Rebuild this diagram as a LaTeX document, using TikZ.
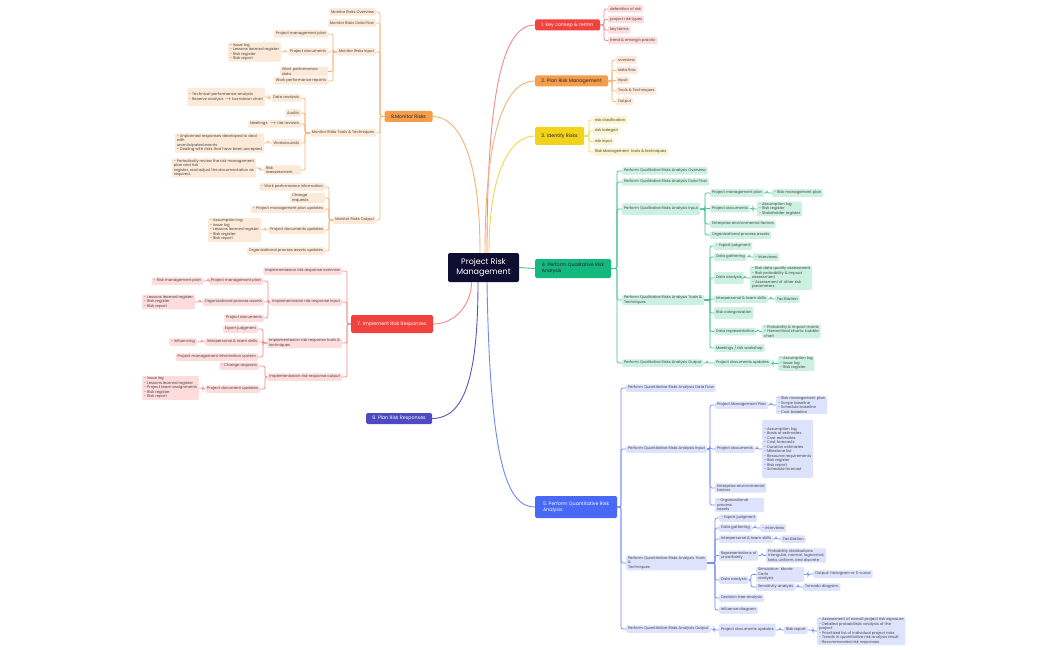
\documentclass[tikz,border=0pt]{standalone}
\usepackage{fontspec}
\setmainfont{Poppins}
\definecolor{redB}{HTML}{F2423E}\definecolor{redL}{HTML}{FDDCDB}\definecolor{redLn}{HTML}{F48A88}
\definecolor{oraB}{HTML}{F49D4A}\definecolor{oraL}{HTML}{FDE9D8}\definecolor{oraLn}{HTML}{F6B274}
\definecolor{yelB}{HTML}{F1D21C}\definecolor{yelL}{HTML}{FBF4CF}\definecolor{yelLn}{HTML}{F2D848}
\definecolor{grnB}{HTML}{15B97E}\definecolor{grnL}{HTML}{CDF1E1}\definecolor{grnLn}{HTML}{3EC38F}
\definecolor{bluB}{HTML}{4869F5}\definecolor{bluL}{HTML}{DDE3FD}\definecolor{bluLn}{HTML}{6D89F7}
\definecolor{purB}{HTML}{4E4BC0}\definecolor{purLn}{HTML}{5653C6}
\definecolor{navy}{HTML}{0E0E30}\definecolor{txt}{HTML}{444444}\definecolor{dtx}{HTML}{222233}
\newcommand\rcon[4]{\draw[#1] (#2.east) -- (#2.east -| #3,0) |- (#4.west);}
\newcommand\lcon[4]{\draw[#1] (#2.west) -- (#2.west -| #3,0) |- (#4.east);}
\begin{document}
\begin{tikzpicture}[x=1pt,y=-1pt,
  ch/.style={rounded corners=1.2pt, inner xsep=1.8pt, inner ysep=1pt, minimum height=7.5pt,
    font=\fontsize{3.8}{4.5}\selectfont, text=txt, align=left},
  rc/.style={ch, fill=redL}, oc/.style={ch, fill=oraL}, yc/.style={ch, fill=yelL},
  gc/.style={ch, fill=grnL}, bc/.style={ch, fill=bluL},
  R/.style={anchor=west}, L/.style={anchor=east},
  big/.style={rounded corners=1.5pt, inner sep=2pt, minimum height=11pt, align=left,
    font=\fontsize{4.8}{5.8}\selectfont},
  ln/.style={line width=0.7pt, rounded corners=2pt},
  rl/.style={ln, draw=redLn}, ol/.style={ln, draw=oraLn}, yl/.style={ln, draw=yelLn},
  gl/.style={ln, draw=grnLn}, bl/.style={ln, draw=bluLn},
  mainln/.style={line width=0.9pt}]
\useasboundingbox (0,0) rectangle (1050,650);
\fill[white] (0,0) rectangle (1050,650);

% root and branches
\node[rounded corners=2pt, fill=navy, text=white, minimum width=71pt, minimum height=29pt,
  align=center, font=\fontsize{8}{10}\selectfont] (root) at (483.5,267.5) {Project Risk\\Management};
\node[big, fill=redB, text=white, minimum width=65pt] (b1) at (567.5,25) {1. key consep \& termn};
\node[big, fill=oraB, text=dtx, minimum width=73pt] (b2) at (571.5,81) {2. Plan Risk Management};
\node[big, fill=yelB, text=dtx, minimum width=49pt, minimum height=18pt] (b3) at (559.5,136) {3. Identify Risks};
\node[big, fill=grnB, text=dtx, minimum width=76pt, minimum height=19pt] (b4) at (573,268.5) {4. Perform Qualitative Risk\\Analysis};
\node[big, fill=bluB, text=white, minimum width=82pt, minimum height=22pt] (b5) at (576,507) {5. Perform Quantitative Risk\\Analysis};
\node[big, fill=purB, text=white, minimum width=66pt] (b6) at (399,418.5) {6. Plan Risk Responses};
\node[big, fill=redB, text=white, minimum width=82pt, minimum height=18pt] (b7) at (392,324) {7. Implement Risk Responses};
\node[big, fill=oraB, text=dtx, minimum width=48pt] (b8) at (408.5,116.5) {8.Monitor Risks};

\draw[mainln, draw=redLn] ([xshift=3.5pt]root.north) .. controls +(0,-170) and +(-30,0) .. (b1.west);
\draw[mainln, draw=oraLn] ([xshift=1.5pt]root.north) .. controls +(0,-120) and +(-30,0) .. (b2.west);
\draw[mainln, draw=yelLn] ([xshift=5.5pt]root.north) .. controls +(0,-80) and +(-25,0) .. (b3.west);
\draw[mainln, draw=oraLn] ([xshift=-3.5pt]root.north) .. controls +(0,-100) and +(25,0) .. (b8.east);
\draw[mainln, draw=grnLn] (root.east) -- (b4.west);
\draw[mainln, draw=redLn] ([xshift=-12pt]root.south) .. controls +(0,22) and +(22,0) .. (b7.east);
\draw[mainln, draw=purLn] ([xshift=-5.5pt]root.south) .. controls +(0,95) and +(32,0) .. (b6.east);
\draw[mainln, draw=bluLn] ([xshift=3.5pt]root.south) .. controls +(3,180) and +(-28,0) .. (b5.west);

% Branch 1
\node[rc,R] (c11) at (608,9) {defenition of risk};
\node[rc,R] (c12) at (608,19.5) {project risk types};
\node[rc,R] (c13) at (608,30) {key terms};
\node[rc,R] (c14) at (608,40.5) {trend \& emergin practic};
\foreach \c in {c11,c12,c13,c14} {\rcon{rl}{b1}{604}{\c}}

% Branch 2
\node[oc,R] (c21) at (616,60) {overview};
\node[oc,R] (c22) at (616,70.5) {data flow};
\node[oc,R] (c23) at (616,80.5) {input};
\node[oc,R] (c24) at (616,91) {Tools \& Techniques};
\node[oc,R] (c25) at (616,101.5) {Output};
\foreach \c in {c21,c22,c23,c24,c25} {\rcon{ol}{b2}{612}{\c}}

% Branch 3
\node[yc,R] (c31) at (593,120) {risk clasification};
\node[yc,R] (c32) at (593,131) {risk kategori};
\node[yc,R] (c33) at (593,141.5) {risk input};
\node[yc,R] (c34) at (593,152) {Risk Management\ \ tools \& techniques};
\foreach \c in {c31,c32,c33,c34} {\rcon{yl}{b3}{589}{\c}}

% Branch 4
\node[gc,R] (q1) at (622,171) {Perform Qualitative Risks Analysis Overview};
\node[gc,R] (q2) at (622,182) {Perform Qualitative Risks Analysis Data Flow};
\node[gc,R,minimum height=12pt] (q3) at (622,209) {Perform Qualitative Risks Analysis Input};
\node[gc,R] (q4) at (622,300) {Perform Qualitative Risks Analysis Tools \&\\Techniques};
\node[gc,R] (q5) at (622,363) {Perform Qualitative Risks Analysis Output};
\foreach \c in {q1,q2,q3,q4,q5} {\rcon{gl}{b4}{617}{\c}}
\node[gc,R] (q31) at (710,193) {Project management plan};
\node[gc,R] (q32) at (710,208.5) {Project documents};
\node[gc,R] (q33) at (710,224) {Enterprise environmental factors};
\node[gc,R] (q34) at (710,235) {Organizational process assets};
\foreach \c in {q31,q32,q33,q34} {\rcon{gl}{q3}{705}{\c}}
\node[gc,R] (q311) at (772,193) {- Risk management plan};
\rcon{gl}{q31}{767}{q311}
\node[gc,R] (q321) at (757,209) {- Assumption log\\- Risk register\\- Stakeholder register};
\rcon{gl}{q32}{753}{q321}
\node[gc,R] (q41) at (714,246) {- Expert judgment};
\node[gc,R] (q42) at (714,257) {Data gathering};
\node[gc,R,minimum height=12pt] (q43) at (714,278) {Data analysis};
\node[gc,R] (q44) at (714,299) {Interpersonal \& team skills};
\node[gc,R,minimum height=12pt] (q45) at (714,313) {Risk categorization};
\node[gc,R] (q46) at (714,331.5) {Data representation};
\node[gc,R] (q47) at (714,348) {Meetings / risk workshop};
\foreach \c in {q41,q42,q43,q44,q45,q46,q47} {\rcon{gl}{q4}{710}{\c}}
\node[gc,R] (q421) at (753,257) {- Interviews};
\rcon{gl}{q42}{749}{q421}
\node[gc,R] (q431) at (750,278) {- Risk data quality assessment\\- Risk probability \& impact\\assessment\\- Assessment of other risk\\parameters};
\rcon{gl}{q43}{745}{q431}
\node[gc,R] (q441) at (775,299) {Facilitation};
\rcon{gl}{q44}{771}{q441}
\node[gc,R] (q461) at (762,331.5) {- Probability \& impact matrix\\- Hierarchical charts: bubble\\chart};
\rcon{gl}{q46}{758}{q461}
\node[gc,R] (q51) at (714,363) {Project documents updates};
\rcon{gl}{q5}{707}{q51}
\node[gc,R] (q511) at (778,363.5) {- Assumption log\\- Issue log\\- Risk register};
\rcon{gl}{q51}{773}{q511}

% Branch 5
\node[bc,R] (n1) at (626,388) {Perform Quantitative Risks Analysis Data Flow};
\node[bc,R] (n2) at (626,449) {Perform Quantitative Risks Analysis Input};
\node[bc,R] (n3) at (626,563) {Perform Quantitative Risks Analysis Tools\\\&\\Techniques};
\node[bc,R] (n4) at (626,629) {Perform Quantitative Risks Analysis Output};
\foreach \c in {n1,n2,n3,n4} {\rcon{bl}{b5}{621}{\c}}
\node[bc,R] (n21) at (715,405) {Project Management Plan};
\node[bc,R] (n22) at (715,449) {Project documents};
\node[bc,R] (n23) at (715,488) {Enterprise environmental\\factors};
\node[bc,R,text width=45pt] (n24) at (715,505) {- Organizational\\process\\assets};
\foreach \c in {n21,n22,n23,n24} {\rcon{bl}{n2}{710}{\c}}
\node[bc,R] (n211) at (776,405) {- Risk management plan\\- Scope baseline\\- Schedule baseline\\- Cost baseline};
\rcon{bl}{n21}{771}{n211}
\node[bc,R,minimum height=58pt] (n221) at (762,449) {- Assumption log\\- Basis of estimates\\- Cost estimates\\- Cost forecasts\\- Duration estimates\\- Milestone list\\- Resource requirements\\- Risk register\\- Risk report\\- Schedule forecast};
\rcon{bl}{n22}{757}{n221}
\node[bc,R] (n31) at (719,518) {- Expert judgment};
\node[bc,R] (n32) at (719,528) {Data gathering};
\node[bc,R] (n33) at (719,539) {Interpersonal \& team skills};
\node[bc,R] (n34) at (719,555.5) {Representations of\\uncertainty};
\node[bc,R] (n35) at (719,580) {Data analysis};
\node[bc,R] (n36) at (719,598) {Decision tree analysis};
\node[bc,R] (n37) at (719,610) {Influence diagram};
\foreach \c in {n31,n32,n33,n34,n35,n36,n37} {\rcon{bl}{n3}{715}{\c}}
\node[bc,R] (n321) at (760,528) {- Interviews};
\rcon{bl}{n32}{755}{n321}
\node[bc,R] (n331) at (781,539) {Facilitation};
\rcon{bl}{n33}{776}{n331}
\node[bc,R] (n341) at (766,555.5) {Probability distributions:\\triangular, normal, lognormal,\\beta, uniform, and discrete};
\rcon{bl}{n34}{762}{n341}
\node[bc,R,text width=44pt] (n351) at (756,574.5) {Simulation: Monte\\Carlo\\analysis};
\node[bc,R] (n352) at (756,587) {Sensitivity analysis};
\rcon{bl}{n35}{751}{n351}
\rcon{bl}{n35}{751}{n352}
\node[bc,R] (n3511) at (813,574) {Output: histogram or S-curve};
\rcon{bl}{n351}{808}{n3511}
\node[bc,R] (n3521) at (803,587) {Tornado diagram};
\rcon{bl}{n352}{798}{n3521}
\node[bc,R,minimum height=13pt] (n41) at (719,630) {Project documents updates};
\rcon{bl}{n4}{714}{n41}
\node[bc,R] (n411) at (784,630) {Risk report};
\rcon{bl}{n41}{780}{n411}
\node[bc,R] (n4111) at (817,631) {- Assessment of overall project risk exposure\\- Detailed probabilistic analysis of the\\project\\- Prioritized list of individual project risks\\- Trends in quantitative risk analysis result\\- Recommended risk responses};
\rcon{bl}{n411}{813}{n4111}

% Branch 8 (left)
\node[oc,L] (m1) at (376,12) {Monitor Risks Overview};
\node[oc,L] (m2) at (376,23) {Monitor Risks Data Flow};
\node[oc,L] (m3) at (376,52) {Monitor Risks Input};
\node[oc,L] (m4) at (376,133) {Monitor Risks Tools \& Techniques};
\node[oc,L] (m5) at (376,220) {Monitor Risks Output};
\foreach \c in {m1,m2,m3,m4,m5} {\lcon{ol}{b8}{380}{\c}}
\node[oc,L] (m31) at (328,34) {Project management plan};
\node[oc,L] (m32) at (328,52) {Project documents};
\node[oc,L,text width=44pt] (m33) at (328,71.5) {Work performance\\data};
\node[oc,L] (m34) at (328,81) {Work performance reports};
\foreach \c in {m31,m32,m33,m34} {\lcon{ol}{m3}{333}{\c}}
\node[oc,L] (m321) at (281,52) {- Issue log\\- Lessons learned register\\- Risk register\\- Risk report};
\lcon{ol}{m32}{285}{m321}
\node[oc,L] (m41) at (301,98) {Data analysis};
\node[oc,L] (m42) at (301,113) {Audits};
\node[oc,L] (m43) at (301,124) {Meetings\ \ $\rightarrow$ risk reviews};
\node[oc,L] (m44) at (301,143) {Workarounds};
\node[oc,L,text width=33pt] (m45) at (301,170) {Risk\\reassessment};
\foreach \c in {m41,m42,m43,m44,m45} {\lcon{ol}{m4}{305}{\c}}
\node[oc,L,minimum height=18pt] (m411) at (265,97) {- Technical performance analysis\\- Reserve analysis $\rightarrow$ burndown chart};
\lcon{ol}{m41}{269}{m411}
\node[oc,L] (m441) at (264,143) {- Unplanned responses developed to deal\\with\\unanticipated events\\- Dealing with risks that have been accepted};
\lcon{ol}{m44}{268}{m441}
\node[oc,L] (m451) at (256,168) {- Periodically review the risk management\\plan and risk\\register, and adjust the documentation as\\required.};
\lcon{ol}{m45}{260}{m451}
\node[oc,L] (m51) at (325,187) {- Work performance information};
\node[oc,L,text width=31pt] (m52) at (325,198) {Change\\requests};
\node[oc,L] (m53) at (325,209) {- Project management plan updates};
\node[oc,L] (m54) at (325,230) {Project documents updates};
\node[oc,L] (m55) at (325,251) {Organizational process assets updates};
\foreach \c in {m51,m52,m53,m54,m55} {\lcon{ol}{m5}{329}{\c}}
\node[oc,L] (m541) at (261,230) {- Assumption log\\- Issue log\\- Lessons learned register\\- Risk register\\- Risk report};
\lcon{ol}{m54}{265}{m541}

% Branch 7 (left)
\node[rc,L] (i1) at (342,271) {Implementasion risk response overview};
\node[rc,L] (i2) at (342,302) {Implementasion risk response input};
\node[rc,L] (i3) at (342,343) {Implementasion risk response tools \&\\techniques};
\node[rc,L] (i4) at (342,377) {Implementasion risk response output};
\foreach \c in {i1,i2,i3,i4} {\lcon{rl}{b7}{347}{\c}}
\node[rc,L] (i21) at (263,281) {Project management plan};
\node[rc,L] (i22) at (264,302) {Organizational process assets};
\node[rc,L] (i23) at (264,318) {Project documents};
\foreach \c in {i21,i22,i23} {\lcon{rl}{i2}{268}{\c}}
\node[rc,L] (i211) at (203,281) {- Risk management plan};
\lcon{rl}{i21}{208}{i211}
\node[rc,L] (i221) at (195,302) {- Lessons learned register\\- Risk register\\- Risk report};
\lcon{rl}{i22}{200}{i221}
\node[rc,L] (i31) at (258,329) {Expert judgment};
\node[rc,L] (i32) at (259,342) {Interpersonal \& team skills};
\node[rc,L] (i33) at (258,357) {Project management information system};
\foreach \c in {i31,i32,i33} {\lcon{rl}{i3}{263}{\c}}
\node[rc,L] (i321) at (197,342) {- Influencing};
\lcon{rl}{i32}{202}{i321}
\node[rc,L] (i41) at (259,366) {- Change requests};
\node[rc,L] (i42) at (260,389) {Project document updates};
\foreach \c in {i41,i42} {\lcon{rl}{i4}{265}{\c}}
\node[rc,L] (i421) at (199,388) {- Issue log\\- Lessons learned register\\- Project team assignments\\- Risk register\\- Risk report};
\lcon{rl}{i42}{203}{i421}
\end{tikzpicture}
\end{document}
